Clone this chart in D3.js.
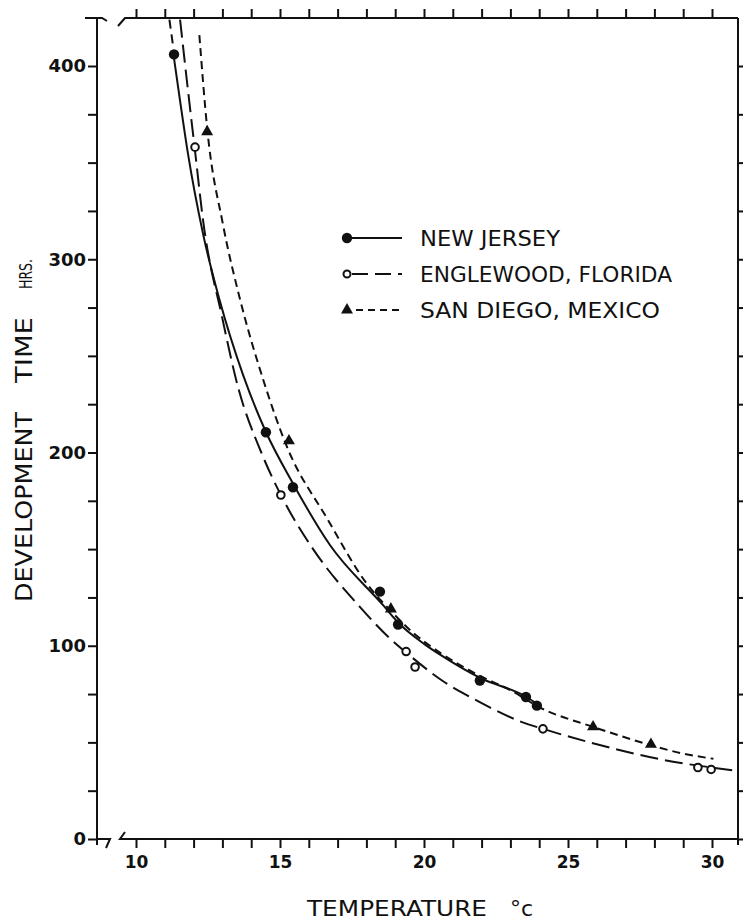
<!DOCTYPE html>
<html>
<head>
<meta charset="utf-8">
<script src="https://cdn.jsdelivr.net/npm/d3@7"></script>
<style>
body { margin: 0; background: #fff; }
svg { display: block; }
text { fill: #111; font-family: "DejaVu Sans", sans-serif; }
</style>
</head>
<body>
<script>
const v_width = 743, v_height = 922;
const d_frame = {left: 97, right: 738, top: 18, bottom: 839};

// observed points (temperature C, hours)
var a_nj_temp  = [11.32, 14.51, 15.45, 18.47, 19.10, 21.94, 23.54, 23.92];
var a_nj_hours = [406, 210.5, 182, 128, 111, 82, 73.5, 69];
var a_fl_temp  = [12.05, 15.03, 19.38, 19.69, 24.13, 29.51, 29.97];
var a_fl_hours = [358, 178, 97, 89, 57, 37, 36];
var a_sd_temp  = [12.47, 15.31, 18.85, 25.87, 27.88];
var a_sd_hours = [366, 206, 119, 58, 49];

// fitted curves
var a_nj_curve_temp  = [11.32, 11.53, 11.8, 12.33, 12.9, 13.72, 14.5, 15.45, 16.74, 18.58, 19.1, 20.0, 20.6, 22.0, 23.5, 23.92];
var a_nj_curve_hours = [404, 382, 355, 313, 279, 240, 211, 184, 152, 121, 112, 101, 95, 83, 74, 70];
var a_nj_ext_temp  = [11.16, 11.3];
var a_nj_ext_hours = [424, 409];
var a_fl_curve_temp  = [11.53, 11.8, 12.05, 12.33, 12.99, 13.54, 14.35, 15.03, 16.15, 17.78, 18.8, 19.5, 20.73, 21.6, 22.3, 23.4, 24.13, 25.76, 28.65, 30.5, 31.0];
var a_fl_curve_hours = [424, 388, 356, 320, 270, 234, 200, 178, 150, 120, 104, 95, 81, 73.5, 68, 60.5, 57, 50, 40, 36, 35];
var a_sd_curve_temp  = [12.2, 12.47, 13.02, 13.6, 14.41, 15.24, 16.63, 18.02, 18.85, 19.6, 20.6, 22.0, 23.0, 24.03, 25.87, 27.0, 27.88, 28.9, 30.05];
var a_sd_curve_hours = [416, 368, 318, 280, 238, 203, 166, 132, 118, 107, 96, 84, 77, 68, 58, 52.5, 48.5, 44.5, 41.5];

var a_legend_labels = ["NEW JERSEY", "ENGLEWOOD, FLORIDA", "SAN DIEGO, MEXICO"];
var a_legend_widths = [140, 252, 240];
var a_x_ticks = d3.range(10, 31);
var a_y_ticks = d3.range(0, 425, 25);

var x = d3.scaleLinear().domain([10, 30]).range([136, 712]);
var y = d3.scaleLinear().domain([0, 400]).range([839, 66]);

var svg = d3.select("body").append("svg")
    .attr("width", v_width)
    .attr("height", v_height);

// frame with the axis breaks
var frame = svg.append("g")
    .attr("fill", "none")
    .attr("stroke", "#111")
    .attr("stroke-width", 2);
frame.append("path").attr("d", d3.line()([[85, d_frame.top], [102, d_frame.top], [107, d_frame.top + 3]]));
frame.append("path").attr("d", d3.line()([[118, d_frame.top + 8], [125, d_frame.top], [d_frame.right, d_frame.top]]));
frame.append("path").attr("d", d3.line()([[d_frame.left, d_frame.top], [d_frame.left, d_frame.bottom + 6]]));
frame.append("path").attr("d", d3.line()([[d_frame.right, d_frame.top], [d_frame.right, d_frame.bottom + 6]]));
frame.append("path").attr("d", d3.line()([[d_frame.left, d_frame.bottom], [110, d_frame.bottom], [106, d_frame.bottom + 9]]));
frame.append("path").attr("d", d3.line()([[125, d_frame.bottom - 7], [120, d_frame.bottom], [d_frame.right, d_frame.bottom]]));

function style_axis(g, v_size) {
    g.attr("font-size", v_size || 10).attr("font-family", null);
    g.select(".domain").remove();
    g.selectAll(".tick line").attr("stroke", "#111").attr("stroke-width", 2);
    g.selectAll("text").attr("font-weight", "bold").attr("fill", "#111");
}

var y_axis = d3.axisLeft(y).tickValues(a_y_ticks).tickSize(9).tickPadding(2)
    .tickFormat(function(d) { return d % 100 == 0 ? d : ""; });
svg.append("g")
    .attr("transform", `translate(${d_frame.left},0)`)
    .call(y_axis)
    .call(style_axis, 18);

svg.append("g")
    .attr("transform", `translate(${d_frame.right},0)`)
    .call(d3.axisRight(y).tickValues(a_y_ticks).tickSize(8).tickFormat(""))
    .call(style_axis);

var x_axis = d3.axisBottom(x).tickValues(a_x_ticks).tickSize(9).tickPadding(8)
    .tickFormat(function(d) { return d % 5 == 0 ? d : ""; });
svg.append("g")
    .attr("transform", `translate(0,${d_frame.bottom})`)
    .call(x_axis)
    .call(style_axis, 17);

svg.append("g")
    .attr("transform", `translate(0,${d_frame.top})`)
    .call(d3.axisTop(x).tickValues(a_x_ticks).tickSize(9).tickFormat(""))
    .call(style_axis);

// axis titles
svg.append("text")
    .attr("x", 307).attr("y", 916)
    .attr("font-size", 22)
    .attr("textLength", 180)
    .attr("lengthAdjust", "spacingAndGlyphs")
    .text("TEMPERATURE");
svg.append("text")
    .attr("x", 510).attr("y", 916)
    .attr("font-size", 22)
    .text("°c");

var y_title = svg.append("g").attr("transform", "translate(32,0)");
y_title.append("text")
    .attr("transform", "translate(0,602) rotate(-90)")
    .attr("font-size", 23)
    .attr("textLength", 190)
    .attr("lengthAdjust", "spacingAndGlyphs")
    .text("DEVELOPMENT");
y_title.append("text")
    .attr("transform", "translate(0,383) rotate(-90)")
    .attr("font-size", 23)
    .attr("textLength", 66)
    .attr("lengthAdjust", "spacingAndGlyphs")
    .text("TIME");
y_title.append("text")
    .attr("transform", "translate(0,289) rotate(-90)")
    .attr("font-size", 17)
    .attr("textLength", 30)
    .attr("lengthAdjust", "spacingAndGlyphs")
    .text("HRS.");

// curves
svg.append("clipPath").attr("id", "plot_clip")
    .append("rect")
    .attr("x", d_frame.left).attr("y", d_frame.top)
    .attr("width", d_frame.right - d_frame.left)
    .attr("height", d_frame.bottom - d_frame.top);

var line = d3.line()
    .x(function(d) { return x(d[0]); })
    .y(function(d) { return y(d[1]); })
    .curve(d3.curveMonotoneX);

function pairs(a_t, a_h) {
    return a_t.map(function(t, i) { return [t, a_h[i]]; });
}

var g_curves = svg.append("g")
    .attr("clip-path", "url(#plot_clip)")
    .attr("fill", "none")
    .attr("stroke", "#111")
    .attr("stroke-width", 2);

g_curves.append("path")
    .attr("d", line(pairs(a_sd_curve_temp, a_sd_curve_hours)))
    .attr("stroke-dasharray", "8,5");
g_curves.append("path")
    .attr("d", line(pairs(a_fl_curve_temp, a_fl_curve_hours)))
    .attr("stroke-dasharray", "18,7");
g_curves.append("path")
    .attr("d", line(pairs(a_nj_curve_temp, a_nj_curve_hours)));
g_curves.append("path")
    .attr("d", line(pairs(a_nj_ext_temp, a_nj_ext_hours)))
    .attr("stroke-dasharray", "9,6");

// points
svg.append("g").selectAll("circle")
    .data(pairs(a_nj_temp, a_nj_hours))
    .enter().append("circle")
    .attr("cx", function(d) { return x(d[0]); })
    .attr("cy", function(d) { return y(d[1]); })
    .attr("r", 5.2)
    .attr("fill", "#111");

svg.append("g").selectAll("circle")
    .data(pairs(a_fl_temp, a_fl_hours))
    .enter().append("circle")
    .attr("cx", function(d) { return x(d[0]); })
    .attr("cy", function(d) { return y(d[1]); })
    .attr("r", 3.8)
    .attr("fill", "#fff")
    .attr("stroke", "#111")
    .attr("stroke-width", 2);

var tri = d3.symbol().type(d3.symbolTriangle).size(62);
svg.append("g").selectAll("path")
    .data(pairs(a_sd_temp, a_sd_hours))
    .enter().append("path")
    .attr("d", tri)
    .attr("transform", function(d) { return `translate(${x(d[0])},${y(d[1])})`; })
    .attr("fill", "#111");

// legend
var g_legend = svg.append("g").attr("transform", "translate(347,238)");
var a_dash = [null, "16,7", "7,5"];
a_legend_labels.forEach(function(lbl, i) {
    var row = g_legend.append("g").attr("transform", `translate(0,${i * 36})`);
    row.append("line")
        .attr("x1", i == 2 ? 9 : 5).attr("x2", 55)
        .attr("stroke", "#111").attr("stroke-width", 2)
        .attr("stroke-dasharray", a_dash[i]);
    if (i == 0) {
        row.append("circle").attr("r", 5.2).attr("fill", "#111");
    } else if (i == 1) {
        row.append("circle").attr("r", 3.5).attr("fill", "#fff")
            .attr("stroke", "#111").attr("stroke-width", 2);
    } else {
        row.append("path").attr("d", tri).attr("fill", "#111");
    }
    row.append("text")
        .attr("x", 73).attr("y", 7.5)
        .attr("font-size", 21)
        .attr("textLength", a_legend_widths[i])
        .attr("lengthAdjust", "spacingAndGlyphs")
        .text(lbl);
});
</script>
</body>
</html>
